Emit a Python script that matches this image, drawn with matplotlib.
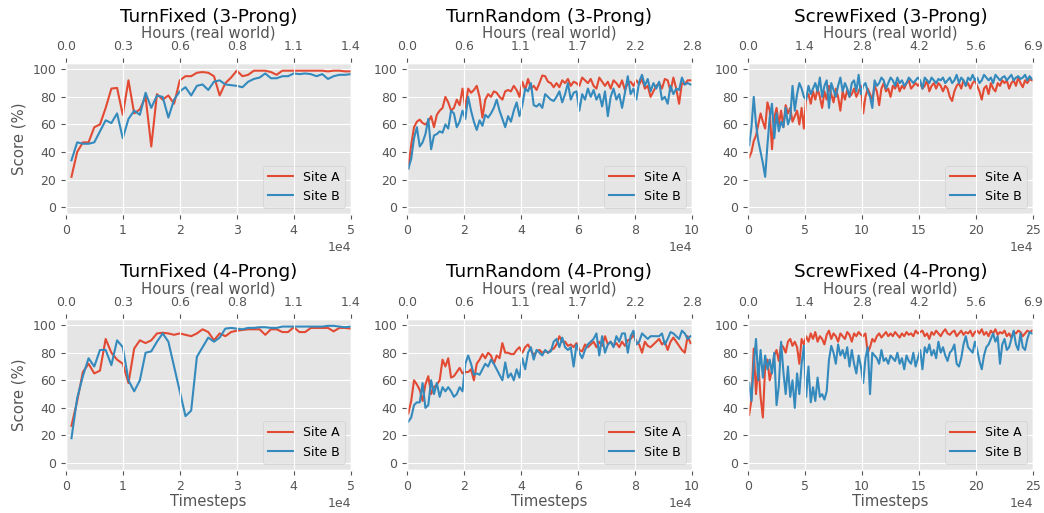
import numpy as np
import matplotlib
matplotlib.use("Agg")
import matplotlib.pyplot as plt

plt.style.use("ggplot")
plt.rcParams["font.family"] = ["DejaVu Sans"]
plt.rcParams["font.size"] = 9

# ---------------- data ----------------
SEC_PER_STEP = 0.1

# TurnFixed: one point every 1000 steps, 1000..50000
tf_x = np.arange(1, 51) * 1000
tf3_a = [22, 40, 47, 47, 58, 60, 72, 86, 86.5, 67, 92, 68, 71, 80, 44, 82, 78, 81, 75, 92,
         95, 95, 97.5, 98, 97.5, 95, 81, 90, 94, 99, 95, 96, 99, 99, 99, 98, 96, 99, 99, 99,
         99, 99, 99, 99, 99, 98.5, 99, 99, 98.5, 98.5]
tf3_b = [34, 47, 46, 46, 47, 55, 63, 61, 68, 50, 64, 70, 67, 83, 72, 81, 80, 65, 78, 84,
         87, 81, 88, 89, 85, 91, 92, 89, 88.5, 88, 87, 91, 93, 94, 97, 93.5, 93.5, 95, 95, 97,
         96.5, 97, 96.5, 95, 96.5, 93, 95, 96, 96, 96.5]
tf4_a = [27, 45, 66, 72, 65, 67, 90, 80, 75, 72, 58, 83, 89, 87, 89, 94, 94.5, 94, 93, 94,
         93, 92, 94, 97, 95, 89, 94, 92, 95, 96, 96.5, 97, 97, 97, 93, 97, 97, 95, 95, 98.5,
         95, 95, 98, 98, 98, 98, 95.5, 98, 98, 97.5]
tf4_b = [18, 47, 63, 76, 70, 82, 82, 71, 89, 84, 60, 52, 60, 80, 81, 88, 94, 88, 70, 52,
         34, 38, 77, 84, 91, 88, 91, 97.5, 98, 97.5, 97, 98, 98, 98.5, 98.5, 98, 98, 99, 99, 99,
         99, 99, 99, 99, 99, 99.5, 99.5, 99, 98.5, 99]

# TurnRandom: one point every 1000 steps, 500..99500
tr_x = np.arange(100) * 1000 + 500
tr3_a = [28, 45, 58, 62, 63.5, 61, 60, 62, 66, 58, 67, 70, 72, 80, 76, 70, 72, 78, 74, 86,
         72, 86, 83, 85, 88, 80, 65, 78, 82, 80, 84, 83, 80, 78, 84, 85, 84, 88, 85, 80,
         91, 85, 93, 86, 88, 85, 90, 95.5, 95, 91, 90, 87, 90, 87, 92, 90, 93, 88, 91, 90,
         88, 94, 92, 90, 93, 88, 86, 94, 91, 88, 91, 86, 92, 90, 87, 92, 85, 90, 91, 88,
         92, 89, 93, 86, 88, 80, 84, 88, 90, 86, 93, 92, 84, 94, 86, 75, 90, 89, 92, 92]
tr3_b = [28, 35, 50, 58, 44, 47, 53, 64, 42, 52, 53, 55, 54, 60, 57, 70, 68, 58, 62, 70,
         64, 80, 70, 62, 56, 63, 59, 67, 65, 68, 72, 78, 70, 64, 58, 66, 62, 70, 76, 66,
         74, 86, 84, 90, 74, 73, 75, 72, 82, 80, 78, 77, 80, 84, 76, 82, 90, 78, 83, 84,
         70, 82, 78, 86, 80, 85, 78, 82, 73, 84, 66, 80, 86, 78, 82, 72, 83, 95, 82, 86,
         78, 91, 96, 88, 93, 84, 90, 86, 91, 78, 80, 75, 88, 82, 86, 85, 94, 89, 90, 89]
tr4_a = [36, 45, 60, 57, 53, 45, 57, 63, 50, 55, 57, 60, 75, 70, 76, 62, 63, 66, 69, 65,
         66, 66, 68, 60, 72, 75, 79, 76, 80, 78, 72, 78, 76, 87, 80, 80, 79, 79, 82, 84,
         80, 84, 86, 82, 78, 81, 82, 80, 81, 80, 82, 83, 86, 92, 88, 88, 85, 86, 84, 87,
         82, 81, 86, 84, 86, 88, 84, 88, 85, 92, 86, 88, 85, 87, 84, 88, 85, 89, 90, 93,
         88, 86, 80, 88, 85, 84, 86, 88, 90, 86, 88, 82, 88, 91, 88, 85, 82, 80, 92, 87]
tr4_b = [30, 33, 42, 44, 44, 58, 40, 42, 60, 50, 58, 48, 55, 52, 55, 52, 48, 50, 55, 52,
         72, 78, 72, 64, 65, 64, 68, 72, 70, 75, 72, 68, 64, 60, 73, 62, 65, 60, 68, 62,
         76, 68, 80, 84, 75, 82, 80, 78, 82, 80, 81, 88, 90, 84, 91, 84, 82, 84, 70, 86,
         80, 76, 82, 86, 88, 90, 94, 78, 92, 80, 86, 88, 84, 92, 88, 94, 94, 80, 92, 96,
         86, 88, 94, 92, 90, 92, 92, 92, 92, 94, 86, 90, 95, 94, 92, 90, 96, 94, 90, 92]

# ScrewFixed: one point every 2000 steps, 1000..249000
sf_x = np.arange(125) * 2000 + 1000
sf3_a = [36, 40, 48, 52, 60, 68, 62, 57, 76, 70, 42, 65, 72, 60, 70, 58, 74, 68, 72, 62, 66, 70, 60, 72, 57,
         80, 82, 75, 84, 78, 86, 80, 72, 84, 78, 88, 82, 76, 86, 80, 70, 84, 78, 85, 80, 82, 86, 80, 84, 88,
         68, 80, 86, 82, 78, 88, 84, 74, 86, 90, 84, 86, 80, 88, 86, 90, 84, 88, 86, 90, 92, 86, 88, 90, 88,
         90, 86, 88, 92, 84, 88, 90, 86, 90, 88, 84, 88, 86, 80, 77, 84, 88, 90, 86, 92, 88, 90, 86, 90, 92,
         88, 84, 78, 86, 88, 82, 90, 86, 84, 90, 88, 92, 90, 92, 86, 90, 92, 88, 94, 90, 87, 92, 90, 93, 92]
sf3_b = [45, 58, 80, 60, 48, 40, 32, 22, 45, 65, 75, 50, 68, 55, 62, 58, 72, 60, 65, 88, 70, 82, 90, 86, 80,
         78, 88, 82, 86, 90, 84, 94, 80, 88, 92, 72, 90, 85, 80, 88, 94, 84, 90, 86, 80, 90, 92, 84, 96, 82,
         88, 90, 84, 80, 72, 92, 88, 90, 94, 92, 86, 90, 94, 92, 88, 94, 90, 92, 88, 90, 94, 92, 90, 92, 94,
         92, 86, 94, 92, 90, 94, 92, 90, 93, 92, 94, 90, 92, 94, 90, 92, 96, 90, 94, 92, 88, 94, 92, 96, 92,
         94, 90, 92, 96, 94, 92, 94, 90, 96, 94, 92, 94, 95, 92, 94, 96, 92, 94, 95, 93, 94, 96, 92, 95, 93]
sf4_a = [35, 46, 83, 50, 72, 48, 33, 70, 75, 60, 68, 78, 82, 74, 86, 84, 80, 88, 90, 85, 88, 84, 72, 90, 86,
         92, 88, 94, 90, 95, 88, 92, 90, 86, 93, 96, 90, 94, 92, 88, 94, 92, 90, 95, 93, 88, 94, 92, 95, 93,
         92, 94, 80, 84, 90, 88, 92, 94, 91, 93, 95, 92, 94, 92, 95, 93, 91, 94, 92, 95, 93, 94, 92, 96, 94,
         95, 96, 92, 94, 90, 95, 93, 96, 94, 92, 95, 97, 94, 93, 95, 96, 92, 94, 96, 93, 95, 94, 96, 92, 95,
         96, 94, 97, 93, 95, 92, 96, 94, 97, 93, 95, 94, 96, 92, 94, 91, 95, 94, 96, 95, 92, 94, 96, 95, 96]
sf4_b = [58, 45, 72, 90, 60, 82, 62, 78, 68, 75, 65, 80, 42, 56, 88, 66, 50, 70, 48, 60, 40, 65, 50, 72, 85,
         48, 70, 44, 55, 45, 62, 48, 50, 46, 52, 75, 85, 80, 72, 86, 78, 82, 76, 84, 70, 82, 72, 65, 78, 70,
         58, 76, 84, 50, 80, 78, 76, 72, 82, 74, 76, 72, 78, 76, 74, 80, 72, 76, 68, 78, 74, 72, 80, 70, 76,
         82, 68, 84, 80, 86, 78, 82, 76, 88, 80, 84, 78, 74, 80, 82, 86, 72, 70, 76, 86, 92, 84, 82, 80, 88,
         82, 74, 68, 78, 84, 86, 90, 94, 88, 92, 72, 86, 90, 82, 84, 90, 96, 86, 82, 94, 84, 82, 90, 95, 94]

panels = [
    ("TurnFixed (3-Prong)", tf_x, tf3_a, tf3_b, 50000, 10000),
    ("TurnRandom (3-Prong)", tr_x, tr3_a, tr3_b, 100000, 20000),
    ("ScrewFixed (3-Prong)", sf_x, sf3_a, sf3_b, 250000, 50000),
    ("TurnFixed (4-Prong)", tf_x, tf4_a, tf4_b, 50000, 10000),
    ("TurnRandom (4-Prong)", tr_x, tr4_a, tr4_b, 100000, 20000),
    ("ScrewFixed (4-Prong)", sf_x, sf4_a, sf4_b, 250000, 50000),
]

TICK_FS = 9
LABEL_FS = 10.7
TITLE_FS = 13.2

fig, axes = plt.subplots(2, 3, figsize=(10.44, 5.13), dpi=100)
fig.subplots_adjust(left=0.063, right=0.9895, top=0.877, bottom=0.084,
                    wspace=0.197, hspace=0.695)

for idx, (ax, (title, x, a, b, xmax, step)) in enumerate(zip(axes.flat, panels)):
    ax.plot(x, a, label="Site A", lw=1.5)
    ax.plot(x, b, label="Site B", lw=1.5)
    ax.set_xlim(0, xmax)
    ax.set_ylim(-5, 104.5)
    ax.set_yticks([0, 20, 40, 60, 80, 100])
    ticks = np.arange(0, xmax + 1, step)
    ax.set_xticks(ticks)
    ax.ticklabel_format(style="sci", axis="x", scilimits=(4, 4))
    ax.tick_params(labelsize=TICK_FS)
    ax.xaxis.get_offset_text().set_fontsize(TICK_FS)
    ax.legend(loc="lower right", fontsize=9)
    if idx % 3 == 0:
        ax.set_ylabel("Score (%)", fontsize=LABEL_FS)
    if idx >= 3:
        ax.set_xlabel("Timesteps", fontsize=LABEL_FS, labelpad=1)
    ax2 = ax.twiny()
    ax2.set_xlim(ax.get_xlim())
    ax2.set_xticks(ticks)
    ax2.set_xticklabels([f"{t * SEC_PER_STEP / 3600:.1f}" for t in ticks])
    ax2.tick_params(labelsize=TICK_FS)
    ax2.set_xlabel("Hours (real world)", fontsize=LABEL_FS, labelpad=2)
    ax2.set_title(title, fontsize=TITLE_FS, pad=2)

fig.savefig("out.png", dpi=100)
